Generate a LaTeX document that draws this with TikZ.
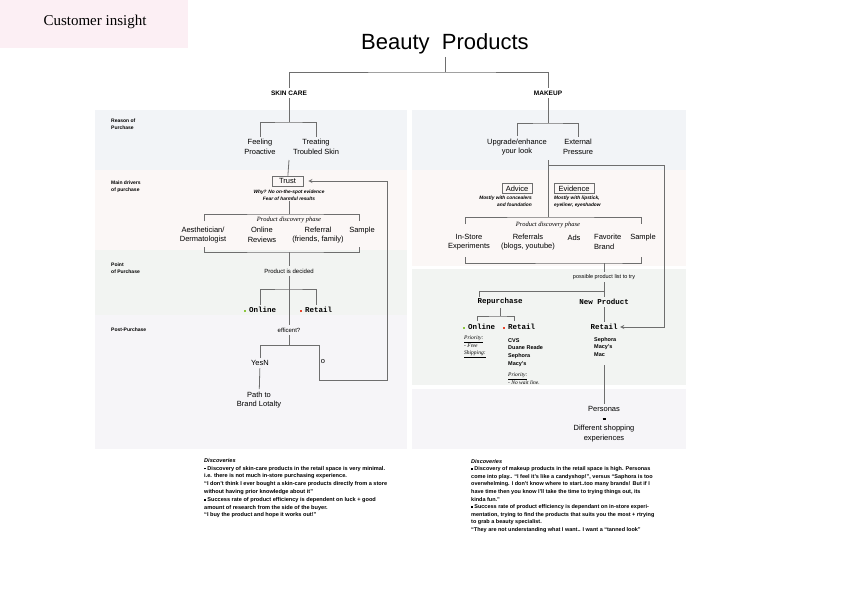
\documentclass[tikz,border=0pt]{standalone}
\usepackage{fontspec}
\setmainfont{Liberation Sans}
\setmonofont{Liberation Mono}
\newfontfamily\serifa{Liberation Serif}
\usepackage{tikz}
\usetikzlibrary{positioning}

\definecolor{rosa}{HTML}{FCEFF4}
\definecolor{azul}{HTML}{F2F4F7}
\definecolor{crema}{HTML}{FBF7F6}
\definecolor{verde}{HTML}{F2F4F2}
\definecolor{lila}{HTML}{F6F5F8}
\definecolor{linea}{HTML}{6E6E6E}
\definecolor{verdeb}{HTML}{8CC63F}
\definecolor{rojob}{HTML}{E8452C}

\newcommand{\bala}[1]{\textcolor{#1}{\rule[0.5pt]{2pt}{2pt}}\hspace{3pt}}
\newcommand{\punto}{\rule[0.6pt]{1.7pt}{1.7pt}\hspace{1.5pt}}

\begin{document}
\begin{tikzpicture}[x=1pt, y=-1pt,
  every node/.style={inner sep=2.5pt, align=center, font=\fontsize{7.5}{9.5}\selectfont},
  arista/.style={draw=linea, line width=0.8pt},
  caja/.style={draw=linea, line width=0.7pt, inner sep=0pt, minimum height=10pt},
  etapa/.style={anchor=west, align=left, inner sep=0pt, font=\fontsize{5}{7}\selectfont\bfseries},
  nota/.style={inner sep=0pt, font=\fontsize{4.8}{7}\selectfont\bfseries\itshape},
  fase/.style={inner sep=0pt, font=\serifa\itshape\fontsize{6.5}{7}\selectfont},
  tipo/.style={font=\ttfamily\bfseries\fontsize{7.5}{9}\selectfont},
  chico/.style={font=\fontsize{6}{7}\selectfont},
  lista/.style={anchor=north west, align=left, inner sep=0pt, font=\fontsize{5.5}{7.7}\selectfont\bfseries},
  prioridad/.style={anchor=north west, align=left, inner sep=0pt, font=\serifa\itshape\fontsize{5.5}{7.5}\selectfont},
  desc/.style={anchor=north west, align=left, inner sep=0pt, font=\fontsize{5.6}{7.8}\selectfont\bfseries},
  >=stealth]
  \useasboundingbox (0,0) rectangle (842,595);

  % Fondos
  \fill[rosa] (0,0) rectangle (188,48);
  \fill[azul] (95,110) rectangle (407,170);
  \fill[crema] (95,170) rectangle (407,250);
  \fill[verde] (95,250) rectangle (407,315);
  \fill[lila] (95,315) rectangle (407,449);
  \fill[azul] (412,110) rectangle (686,170);
  \fill[crema] (412,170) rectangle (686,266);
  \fill[verde] (412,269) rectangle (686,385);
  \fill[lila] (412,389) rectangle (686,449);

  % Nodos
  \node[font=\serifa\fontsize{15}{17}\selectfont] (insight) at (95,22) {Customer insight};
  \node[font=\fontsize{22}{24}\selectfont] (titulo) at (445,44) {Beauty\ \ Products};
  \node[font=\bfseries\fontsize{6.5}{8}\selectfont] (piel) at (289,93) {SKIN CARE};
  \node[font=\bfseries\fontsize{6.5}{8}\selectfont] (maquillaje) at (548,93) {MAKEUP};

  \node[etapa] (razon) at (111,124.5) {Reason of\\Purchase};
  \node[etapa] (impulsores) at (111,187) {Main drivers\\of purchase};
  \node[etapa] (punto) at (111,268) {Point\\of Purchase};
  \node[etapa] (post) at (111,330) {Post-Purchase};

  % skin care
  \node (proactivo) at (260,147) {Feeling\\Proactive};
  \node (tratar) at (316,147) {Treating\\Troubled Skin};
  \node[caja, minimum width=31pt] (confianza) at (287.5,181) {Trust};
  \node[nota] (porque) at (289,195.5) {Why? No on-the-spot evidence\\Fear of harmful results};
  \node[fase] (fase1) at (289,219.5) {Product discovery phase};
  \node (estetica) at (203,235) {Aesthetician/\\Dermatologist};
  \node (resenas) at (262,235) {Online\\Reviews};
  \node (referido) at (318,235) {Referral\\(friends, family)};
  \node (muestra) at (362,231) {Sample};
  \node[chico] (decidido) at (289,271) {Product is decided};
  \node[tipo] (online1) at (260,310) {\bala{verdeb}Online};
  \node[tipo] (retail1) at (316,310) {\bala{rojob}Retail};
  \node[chico] (eficiente) at (289,330) {efficent?};
  \node (sino) at (260,363) {YesN};
  \node (o) at (323,362) {o};
  \node (lealtad) at (259,400) {Path to\\Brand Lotalty};

  \coordinate (r0) at (445,72);
  \coordinate (r1) at (289,122);
  \coordinate (r2) at (289,160);
  \coordinate (r3) at (289,214);
  \coordinate (b1) at (204,221);
  \coordinate (b2) at (359,221);
  \coordinate (b3) at (204,247);
  \coordinate (b4) at (359,247);
  \coordinate (r4) at (289,252);
  \coordinate (r6) at (289,289);
  \coordinate (r5) at (289,345);
  \coordinate (c1) at (319,380);
  \coordinate (c2) at (387,380);

  % makeup
  \node (mejorar) at (517,147) {Upgrade/enhance\\your look};
  \node (presion) at (578,147) {External\\Pressure};
  \node[caja, minimum width=30pt] (consejo) at (517,188.5) {Advice};
  \node[caja, minimum width=40pt] (evidencia) at (574,188.5) {Evidence};
  \node[nota, align=right, anchor=north east] (nota1) at (532,195.5) {Mostly with concealers\\and foundation};
  \node[nota, align=left, anchor=north west] (nota2) at (554,195.5) {Mostly with lipstick,\\eyeliner, eyeshadow};
  \node[fase] (fase2) at (548,224.5) {Product discovery phase};
  \node (tienda) at (469,242) {In-Store\\Experiments};
  \node (referidos) at (528,242) {Referrals\\(blogs, youtube)};
  \node (anuncios) at (574,237.5) {Ads};
  \node[anchor=west, align=left, inner sep=0pt] (favorita) at (594,242) {Favorite\\Brand};
  \node (muestra2) at (643,237.5) {Sample};
  \node[font=\fontsize{5.5}{7}\selectfont] (lista) at (604,277) {possible product list to try};
  \node[tipo] (recompra) at (500,302) {Repurchase};
  \node[tipo] (nuevo) at (604,302) {New Product};
  \node[tipo] (online2) at (479,327) {\bala{verdeb}Online};
  \node[tipo] (retail2) at (519,327) {\bala{rojob}Retail};
  \node[tipo] (retail3) at (604,327) {Retail};
  \node[prioridad] (prio1) at (464,336) {\underline{Priority:}\\- Free\\\underline{Shipping:}};
  \node[lista] (tiendas) at (508,338) {CVS\\Duane Reade\\Sephora\\Macy's};
  \node[prioridad, font=\serifa\itshape\fontsize{5.5}{6.5}\selectfont] (prio2) at (508,373) {\underline{Priority:}\\- No wait line.};
  \node[lista] (tiendas2) at (594,337) {Sephora\\Macy's\\Mac};
  \node (personas) at (604,424) {Personas\\\rule[1.5pt]{3pt}{1.8pt}\\Different shopping\\experiences};

  \coordinate (m1) at (548,123);
  \coordinate (m2) at (548,160);
  \coordinate (m4) at (548,165);
  \coordinate (m3) at (548,217);
  \coordinate (m7) at (465,224);
  \coordinate (m8) at (641,224);
  \coordinate (m9) at (465,257);
  \coordinate (m10) at (641,257);
  \coordinate (m11) at (604,263);
  \coordinate (m12) at (604,291);
  \coordinate (m13) at (479,297);
  \coordinate (m14) at (500,316);
  \coordinate (m15) at (477,321);
  \coordinate (m16) at (514,321);
  \coordinate (m6) at (664,327);
  \coordinate (m17) at (604,365);

  % Hallazgos
  \node[desc] (hallazgos1) at (204,458) {\textit{Discoveries}\\
    \punto Discovery of skin-care products in the retail space is very minimal.\\
    i.e. there is not much in-store purchasing experience.\\
    ``I don't think I ever bought a skin-care products directly from a store\\
    without having prior knowledge about it''\\
    \punto Success rate of product efficiency is dependent on luck + good\\
    amount of research from the side of the buyer.\\
    ``I buy the product and hope it works out!''};
  \node[desc, font=\fontsize{5.5}{7.6}\selectfont\bfseries] (hallazgos2) at (471,459) {\textit{Discoveries}\\
    \punto Discovery of makeup products in the retail space is high. Personas\\
    come into play.. ``I feel it's like a candyshop!'', versus ``Saphora is too\\
    overwhelming. I don't know where to start..too many brands! But if I\\
    have time then you know I'll take the time to trying things out, its\\
    kinda fun.''\\
    \punto Success rate of product efficiency is dependant on in-store experi-\\
    mentation, trying to find the products that suits you the most + rtrying\\
    to grab a beauty specialist.\\
    ``They are not understanding what I want.. I want a ``tanned look''};

  % Aristas
  \draw[arista] (titulo) -- (r0);
  \draw[arista] (piel) |- (r0) -| (maquillaje);
  \draw[arista] (piel) -- (r1);
  \draw[arista] (proactivo) |- (r1) -| (tratar);
  \draw[arista] (r2) -- (confianza);
  \draw[arista] (porque) -- (r3);
  \draw[arista] (b1) |- (r3) -| (b2);
  \draw[arista] (b3) |- (r4) -| (b4);
  \draw[arista] (r4) -- (decidido);
  \draw[arista] (online1) |- (r6) -| (retail1);
  \draw[arista] (decidido) -- (eficiente);
  \draw[arista] (eficiente) -- (r5);
  \draw[arista] (sino) |- (r5);
  \draw[arista, ->, shorten >=5pt] (r5) -| (c1) -- (c2) |- (confianza);
  \draw[arista] (sino) -- (lealtad);

  \draw[arista] (maquillaje) -- (m1);
  \draw[arista] (mejorar) |- (m1) -| (presion);
  \draw[arista] (m2) -- (m3);
  \draw[arista] (m7) |- (m3) -| (m8);
  \draw[arista] (m9) |- (m11) -| (m10);
  \draw[arista] (m11) -- (lista);
  \draw[arista] (lista) -- (nuevo);
  \draw[arista] (m13) |- (m12);
  \draw[arista] (recompra) -- (m14);
  \draw[arista] (m15) |- (m14) -| (m16);
  \draw[arista] (nuevo) -- (retail3);
  \draw[arista, ->] (m4) -| (m6) -- (retail3);
  \draw[arista] (m17) -- (personas);
\end{tikzpicture}
\end{document}
